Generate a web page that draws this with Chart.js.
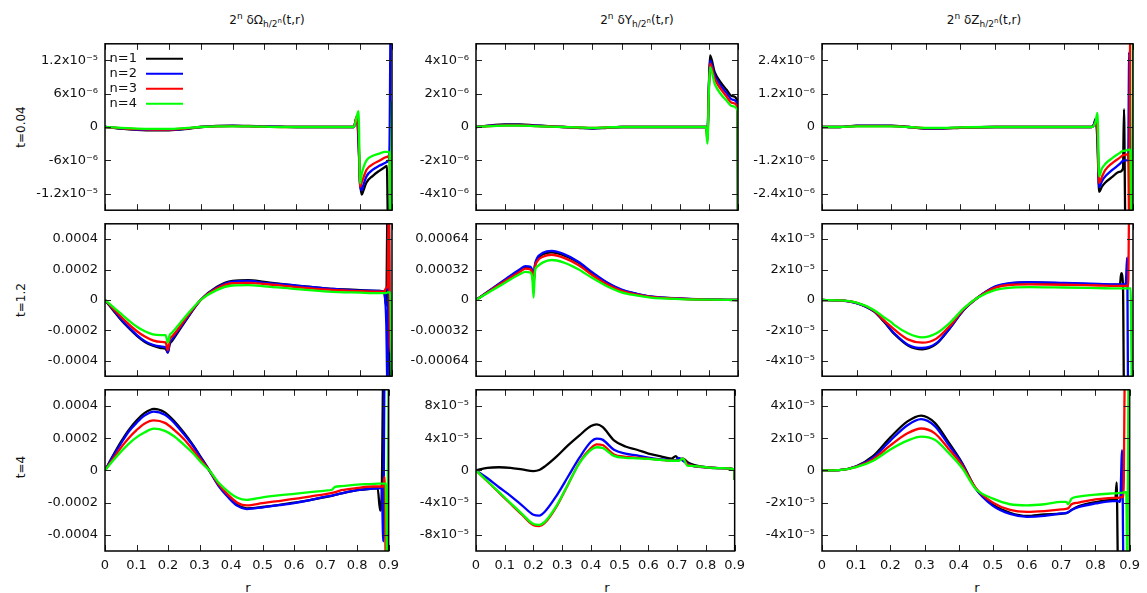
<!DOCTYPE html>
<html>
<head>
<meta charset="utf-8">
<script src="https://cdn.jsdelivr.net/npm/chart.js@4.4.1/dist/chart.umd.min.js"></script>
<style>
  body { margin: 0; background: #fff; width: 1147px; height: 593px; overflow: hidden; position: relative;
         font-family: "DejaVu Sans", sans-serif; color: #111; }
  .panel { position: absolute; }
  .title { position: absolute; top: 13px; font-size: 12px; line-height: 14px; white-space: nowrap; transform: translateX(-50%); }
  .title sup, .title sub { font-size: 9px; line-height: 0; }
  .title sub sup { font-size: 7px; vertical-align: 4px; }
  .rowlab { position: absolute; width: 80px; text-align: center; font-size: 12px; line-height: 14px; transform: rotate(-90deg); }
  .xlab { position: absolute; top: 581px; font-size: 13px; line-height: 14px; color: #111; transform: translateX(-50%); }
</style>
</head>
<body>
<div class="title" style="left:267px">2<sup>n</sup> δΩ<sub>h/2<sup>n</sup></sub>(t,r)</div>
<div class="title" style="left:637px">2<sup>n</sup> δY<sub>h/2<sup>n</sup></sub>(t,r)</div>
<div class="title" style="left:984px">2<sup>n</sup> δZ<sub>h/2<sup>n</sup></sub>(t,r)</div>
<div class="rowlab" style="left:-19px; top:120px">t=0.04</div>
<div class="rowlab" style="left:-19px; top:293px">t=1.2</div>
<div class="rowlab" style="left:-19px; top:460px">t=4</div>
<div class="xlab" style="left:248px">r</div>
<div class="xlab" style="left:607px">r</div>
<div class="xlab" style="left:977px">r</div>
<script>
// shared axis stuff
const rTicks = [0, 0.1, 0.2, 0.3, 0.4, 0.5, 0.6, 0.7, 0.8, 0.9];
const rTickLabels = ['0', '0.1', '0.2', '0.3', '0.4', '0.5', '0.6', '0.7', '0.8', '0.9'];
const seriesNames = ['n=1', 'n=2', 'n=3', 'n=4'];
const seriesColours = ['#000000', '#0000ff', '#ff0000', '#00ff00'];

// t=0.04, Omega (units 1e-6)
const omegaT004_r  = [0, 0.05, 0.1, 0.15, 0.2, 0.25, 0.3, 0.35, 0.4, 0.45, 0.5, 0.55, 0.6, 0.7, 0.78, 0.79, 0.795, 0.8, 0.805, 0.81, 0.82, 0.84, 0.86, 0.878, 0.884, 0.888, 0.892, 0.896, 0.9];
const omegaT004_n1 = [0, -0.3, -0.5, -0.6, -0.6, -0.4, 0, 0.2, 0.25, 0.2, 0.1, 0.05, 0, 0, 0, 1.8, -3, -10, -12.2, -11.5, -10, -8.8, -7.9, -7.2, -7, -20, -20, -20, -20];
const omegaT004_n2 = [0, -0.25, -0.45, -0.5, -0.5, -0.35, 0, 0.15, 0.2, 0.15, 0.1, 0.05, 0, 0, 0, 1.8, -2, -10.5, -11.4, -10.5, -8.9, -7.7, -7.0, -6.5, -6.3, -6.2, -4, 20, 20];
const omegaT004_n3 = [0, -0.2, -0.4, -0.45, -0.45, -0.3, 0, 0.1, 0.15, 0.1, 0.05, 0, 0, 0, 0, 2.0, -1, -10.8, -10.0, -9.2, -7.7, -6.7, -6.1, -5.5, -5.4, -5.3, -5.2, -20, -20];
const omegaT004_n4 = [0, -0.15, -0.3, -0.35, -0.35, -0.2, 0, 0.1, 0.1, 0.1, 0.05, 0, 0, 0, 0, 2.0, 2.85, -10.2, -8.5, -7.4, -6.0, -5.2, -4.8, -4.5, -4.5, -4.5, -4.5, -20, 4.7];
const omegaT004_ticks = [-12, -6, 0, 6, 12];
const omegaT004_labels = ['-1.2x10⁻⁵', '-6x10⁻⁶', '0', '6x10⁻⁶', '1.2x10⁻⁵'];

// t=0.04, Y (units 1e-6)
const yT004_r  = [0, 0.05, 0.1, 0.15, 0.2, 0.25, 0.3, 0.35, 0.4, 0.45, 0.5, 0.6, 0.7, 0.78, 0.79, 0.795, 0.8, 0.804, 0.82, 0.84, 0.86, 0.88, 0.899, 0.9];
const yT004_n1 = [0, 0.1, 0.15, 0.15, 0.1, 0.05, 0, -0.05, -0.1, -0.05, 0, 0, 0, 0, 0, -0.3, 2.5, 4.3, 3.3, 2.7, 2.25, 1.85, 1.5, -6];
const yT004_n2 = [0, 0.08, 0.12, 0.12, 0.08, 0.04, 0, -0.04, -0.08, -0.04, 0, 0, 0, 0, 0, -0.5, 2.4, 4.0, 3.1, 2.5, 2.05, 1.65, 1.33, -6];
const yT004_n3 = [0, 0.06, 0.1, 0.1, 0.06, 0.03, 0, -0.03, -0.06, -0.03, 0, 0, 0, 0, 0, -0.8, 2.3, 3.8, 2.9, 2.3, 1.85, 1.45, 1.17, -6];
const yT004_n4 = [0, 0.05, 0.08, 0.08, 0.05, 0.02, 0, -0.02, -0.05, -0.02, 0, 0, 0, 0, 0, -1.0, 2.2, 3.6, 2.6, 2.0, 1.6, 1.25, 0.95, -6];
const yT004_ticks = [-4, -2, 0, 2, 4];
const yT004_labels = ['-4x10⁻⁶', '-2x10⁻⁶', '0', '2x10⁻⁶', '4x10⁻⁶'];

// t=0.04, Z (units 1e-6)
const zT004_r  = [0, 0.05, 0.1, 0.15, 0.2, 0.25, 0.3, 0.35, 0.4, 0.5, 0.6, 0.7, 0.78, 0.787, 0.792, 0.797, 0.802, 0.81, 0.82, 0.84, 0.86, 0.871, 0.874, 0.878, 0.882, 0.886, 0.889, 0.892, 0.896, 0.9];
const zT004_n1 = [0, 0, 0.05, 0.05, 0.05, 0, -0.06, -0.06, -0.03, 0, 0, 0, 0, 0.1, 0.3, -0.5, -2.34, -2.15, -2.0, -1.8, -1.62, -1.5, 0.64, -3.5, -3.5, -3.5, -3.5, -3.5, -3.5, -3.5];
const zT004_n2 = [0, 0, 0.04, 0.04, 0.04, 0, -0.05, -0.05, -0.02, 0, 0, 0, 0, 0.1, 0.25, -0.3, -2.17, -1.95, -1.78, -1.55, -1.35, -1.22, -1.21, -1.2, -1.2, -1.2, 2.7, -3.5, -3.5, -3.5];
const zT004_n3 = [0, 0, 0.03, 0.03, 0.03, 0, -0.04, -0.04, -0.02, 0, 0, 0, 0, 0.05, 0.2, -0.2, -2.02, -1.8, -1.55, -1.3, -1.12, -1.02, -1.01, -1.0, -0.99, -0.98, -3.5, 3.5, 3.5, 3.5];
const zT004_n4 = [0, 0, 0.02, 0.02, 0.02, 0, -0.03, -0.03, -0.01, 0, 0, 0, 0, 0.05, 0.2, 0.51, -1.78, -1.5, -1.33, -1.12, -0.95, -0.86, -0.86, -0.85, -0.84, -0.83, -0.82, -0.82, -3.5, 3.5];
const zT004_ticks = [-2.4, -1.2, 0, 1.2, 2.4];
const zT004_labels = ['-2.4x10⁻⁶', '-1.2x10⁻⁶', '0', '1.2x10⁻⁶', '2.4x10⁻⁶'];

// t=1.2, Omega (units 1e-4)
const omegaT12_r  = [0, 0.025, 0.05, 0.075, 0.1, 0.125, 0.15, 0.175, 0.19, 0.197, 0.203, 0.21, 0.25, 0.3, 0.35, 0.4, 0.45, 0.5, 0.6, 0.7, 0.8, 0.86, 0.875, 0.882, 0.886, 0.89, 0.894, 0.9];
const omegaT12_n1 = [0, -0.65, -1.3, -1.85, -2.35, -2.75, -3.0, -3.15, -3.2, -3.45, -2.9, -2.7, -1.45, 0, 0.85, 1.25, 1.3, 1.18, 0.95, 0.75, 0.65, 0.6, 0.55, -0.4, 6, 6, -6, -6];
const omegaT12_n2 = [0, -0.6, -1.25, -1.8, -2.3, -2.7, -2.95, -3.05, -3.1, -3.45, -2.8, -2.6, -1.4, 0, 0.8, 1.2, 1.25, 1.12, 0.95, 0.75, 0.62, 0.6, 0.5, -1.5, -6, 6, 6, 6];
const omegaT12_n3 = [0, -0.55, -1.1, -1.6, -2.05, -2.4, -2.65, -2.75, -2.78, -3.3, -2.55, -2.4, -1.3, 0, 0.75, 1.1, 1.12, 1.05, 0.85, 0.68, 0.58, 0.55, 0.55, 0.8, 0.9, 6, -3.4, -3.4];
const omegaT12_n4 = [0, -0.45, -0.9, -1.35, -1.75, -2.05, -2.25, -2.3, -2.3, -2.8, -2.3, -2.15, -1.15, 0, 0.65, 0.95, 0.97, 0.9, 0.72, 0.55, 0.48, 0.45, 0.45, 0.45, 0.5, 0.5, 0.5, -6];
const omegaT12_ticks = [-4, -2, 0, 2, 4];
const omegaT12_labels = ['-0.0004', '-0.0002', '0', '0.0002', '0.0004'];

// t=1.2, Y (units 1e-4)
const yT12_r  = [0, 0.05, 0.1, 0.15, 0.17, 0.185, 0.193, 0.198, 0.202, 0.21, 0.23, 0.26, 0.3, 0.35, 0.4, 0.45, 0.5, 0.55, 0.6, 0.7, 0.8, 0.9];
const yT12_n1 = [0, 1.05, 2.1, 3.1, 3.42, 3.35, 2.9, 1.8, 3.45, 4.25, 4.8, 5.0, 4.7, 3.95, 2.8, 1.8, 1.05, 0.65, 0.36, 0.15, 0.05, 0];
const yT12_n2 = [0, 1.08, 2.15, 3.2, 3.55, 3.5, 3.1, 2.1, 3.6, 4.4, 4.95, 5.15, 4.85, 4.05, 2.9, 1.85, 1.1, 0.68, 0.38, 0.16, 0.06, 0];
const yT12_n3 = [0, 1.0, 2.0, 2.95, 3.3, 3.25, 2.8, 1.6, 3.3, 4.05, 4.55, 4.75, 4.45, 3.7, 2.6, 1.65, 0.95, 0.58, 0.33, 0.13, 0.04, 0];
const yT12_n4 = [0, 0.92, 1.82, 2.7, 2.95, 2.9, 2.4, 0.26, 2.9, 3.5, 3.95, 4.2, 3.95, 3.25, 2.3, 1.45, 0.8, 0.48, 0.26, 0.1, 0.03, 0];
const yT12_ticks = [-6.4, -3.2, 0, 3.2, 6.4];
const yT12_labels = ['-0.00064', '-0.00032', '0', '0.00032', '0.00064'];

// t=1.2, Z (units 1e-5)
const zT12_r  = [0, 0.05, 0.1, 0.15, 0.18, 0.2, 0.21, 0.25, 0.29, 0.33, 0.37, 0.41, 0.45, 0.5, 0.55, 0.6, 0.7, 0.8, 0.85, 0.862, 0.866, 0.871, 0.874, 0.879, 0.883, 0.886, 0.889, 0.893, 0.897, 0.9];
const zT12_n1 = [0, -0.02, -0.2, -0.75, -1.45, -2.0, -2.25, -3.0, -3.24, -2.9, -1.85, -0.65, 0.15, 0.85, 1.1, 1.15, 1.1, 1.02, 1.0, 1.0, 1.76, 1.0, -6, -6, -6, -6, -6, -6, -6, -6];
const zT12_n2 = [0, -0.02, -0.2, -0.72, -1.4, -1.95, -2.2, -2.95, -3.15, -2.85, -1.85, -0.65, 0.15, 0.88, 1.12, 1.17, 1.12, 1.05, 1.02, 1.02, 1.02, 1.02, 1.02, 1.1, 2.8, -6, -6, -6, -6, -6];
const zT12_n3 = [0, -0.02, -0.18, -0.7, -1.35, -1.75, -1.95, -2.6, -2.8, -2.55, -1.7, -0.6, 0.15, 0.8, 1.0, 1.02, 1.0, 0.95, 0.93, 0.93, 0.93, 0.93, 0.93, 0.93, 0.93, 0.9, 6, 6, 6, 6];
const zT12_n4 = [0, -0.02, -0.17, -0.65, -1.15, -1.45, -1.65, -2.2, -2.45, -2.2, -1.5, -0.55, 0.15, 0.65, 0.82, 0.85, 0.82, 0.78, 0.76, 0.76, 0.76, 0.76, 0.76, 0.76, 0.76, 0.76, 0.76, 0.76, -6, -6];
const zT12_ticks = [-4, -2, 0, 2, 4];
const zT12_labels = ['-4x10⁻⁵', '-2x10⁻⁵', '0', '2x10⁻⁵', '4x10⁻⁵'];

// t=4, Omega (units 1e-4)
const omegaT4_r  = [0, 0.025, 0.05, 0.075, 0.1, 0.125, 0.155, 0.19, 0.22, 0.25, 0.28, 0.31, 0.33, 0.36, 0.39, 0.42, 0.45, 0.5, 0.55, 0.6, 0.65, 0.7, 0.72, 0.73, 0.75, 0.8, 0.85, 0.865, 0.873, 0.878, 0.883, 0.887, 0.891, 0.895, 0.9];
const omegaT4_n1 = [0, 0.9, 1.75, 2.5, 3.1, 3.55, 3.82, 3.6, 3.05, 2.35, 1.55, 0.65, 0.05, -0.9, -1.6, -2.15, -2.35, -2.27, -2.15, -2.0, -1.85, -1.65, -1.58, -1.52, -1.43, -1.23, -1.12, -1.1, -2.5, -1.4, 6, 6, 6, 6, 6];
const omegaT4_n2 = [0, 0.85, 1.65, 2.4, 2.95, 3.4, 3.65, 3.45, 2.95, 2.25, 1.5, 0.6, 0, -0.95, -1.65, -2.2, -2.4, -2.29, -2.16, -2.03, -1.85, -1.63, -1.56, -1.52, -1.43, -1.23, -1.13, -1.12, -1.1, -1.1, -4.4, 6, 6, 6, 6];
const omegaT4_n3 = [0, 0.7, 1.4, 2.0, 2.5, 2.9, 3.1, 2.95, 2.5, 1.95, 1.25, 0.5, 0.02, -0.85, -1.5, -2.0, -2.17, -2.03, -1.9, -1.77, -1.62, -1.47, -1.4, -1.35, -1.23, -1.09, -1.0, -1.0, -1.0, -1.0, -1.0, -0.4, -6, -6, -6];
const omegaT4_n4 = [0, 0.6, 1.15, 1.65, 2.05, 2.35, 2.59, 2.45, 2.1, 1.6, 1.05, 0.4, 0.02, -0.75, -1.3, -1.7, -1.83, -1.67, -1.55, -1.45, -1.35, -1.25, -1.2, -1.02, -0.98, -0.88, -0.84, -0.82, -0.82, -0.82, -0.82, -0.82, -0.82, -6, 6];
const omegaT4_ticks = [-4, -2, 0, 2, 4];
const omegaT4_labels = ['-0.0004', '-0.0002', '0', '0.0002', '0.0004'];

// t=4, Y (units 1e-5)
const yT4_r  = [0, 0.04, 0.08, 0.12, 0.16, 0.2, 0.22, 0.24, 0.28, 0.32, 0.36, 0.4, 0.42, 0.44, 0.48, 0.52, 0.56, 0.6, 0.64, 0.68, 0.695, 0.705, 0.72, 0.735, 0.75, 0.8, 0.85, 0.899, 0.9];
const yT4_n1 = [0, 0.32, 0.39, 0.32, 0.12, -0.08, 0.05, 0.5, 1.7, 3.1, 4.35, 5.5, 5.71, 5.4, 3.74, 2.96, 2.56, 2.09, 1.77, 1.46, 1.77, 1.38, 1.46, 1.06, 0.79, 0.39, 0.28, 0.12, -1.2];
const yT4_n2 = [0, -0.98, -2.09, -3.15, -4.33, -5.5, -5.6, -5.1, -3.15, -0.79, 1.58, 3.55, 3.94, 3.82, 2.56, 2.09, 1.85, 1.58, 1.38, 1.26, 1.26, 1.54, 1.2, 0.87, 0.59, 0.39, 0.28, 0.12, -1.2];
const yT4_n3 = [0, -1.38, -2.76, -4.14, -5.5, -6.8, -6.9, -6.5, -4.5, -1.77, 0.98, 2.76, 3.23, 3.15, 1.97, 1.69, 1.58, 1.46, 1.3, 1.22, 1.22, 1.22, 1.46, 0.79, 0.59, 0.39, 0.28, 0.12, -1.2];
const yT4_n4 = [0, -1.35, -2.7, -4.05, -5.4, -6.65, -6.75, -6.35, -4.4, -1.75, 0.9, 2.55, 2.87, 2.8, 1.8, 1.55, 1.5, 1.42, 1.3, 1.2, 1.2, 1.2, 1.45, 0.6, 0.55, 0.39, 0.28, 0.12, -1.2];
const yT4_ticks = [-8, -4, 0, 4, 8];
const yT4_labels = ['-8x10⁻⁵', '-4x10⁻⁵', '0', '4x10⁻⁵', '8x10⁻⁵'];

// t=4, Z (units 1e-5)
const zT4_r  = [0, 0.05, 0.1, 0.15, 0.2, 0.25, 0.29, 0.33, 0.37, 0.41, 0.45, 0.5, 0.55, 0.6, 0.65, 0.7, 0.715, 0.72, 0.73, 0.75, 0.8, 0.85, 0.858, 0.862, 0.866, 0.872, 0.878, 0.882, 0.886, 0.89, 0.893, 0.897, 0.9];
const zT4_n1 = [0, 0.02, 0.26, 0.9, 2.05, 3.04, 3.4, 2.95, 1.75, 0.46, -1.13, -2.13, -2.63, -2.83, -2.73, -2.69, -2.65, -2.6, -2.45, -2.23, -1.97, -1.83, -1.8, -0.74, -6, -6, -6, -6, -6, -6, -6, -6, -6];
const zT4_n2 = [0, 0.02, 0.24, 0.8, 1.85, 2.8, 3.18, 2.75, 1.6, 0.4, -1.15, -2.2, -2.7, -2.88, -2.82, -2.67, -2.64, -2.6, -2.45, -2.28, -2.05, -1.9, -1.9, -1.9, -1.9, -1.95, 1.25, -6, -6, -6, -6, -6, -6];
const zT4_n3 = [0, 0.02, 0.22, 0.7, 1.55, 2.3, 2.6, 2.3, 1.35, 0.3, -1.1, -2.0, -2.45, -2.57, -2.52, -2.42, -2.38, -2.35, -2.1, -2.0, -1.8, -1.7, -1.7, -1.7, -1.7, -1.68, -1.65, -1.65, 6, 6, 6, 6, 6];
const zT4_n4 = [0, 0.02, 0.2, 0.6, 1.3, 1.85, 2.1, 1.9, 1.1, 0.15, -1.15, -1.75, -2.1, -2.17, -2.1, -1.95, -1.95, -2.1, -1.75, -1.63, -1.5, -1.43, -1.42, -1.42, -1.41, -1.4, -1.38, -1.37, -1.36, -1.35, -6, 6, 6];
const zT4_ticks = [-4, -2, 0, 2, 4];
const zT4_labels = ['-4x10⁻⁵', '-2x10⁻⁵', '0', '2x10⁻⁵', '4x10⁻⁵'];

// plot boxes of the 3x3 grid (px)
const cols = [{ l: 105, r: 392 }, { l: 476, r: 738 }, { l: 822, r: 1133 }];
const rows = [{ t: 37, b: 217 }, { t: 217, b: 383 }, { t: 383, b: 551 }];

const panels = [
  { col: 0, row: 0, r: omegaT004_r, n: [omegaT004_n1, omegaT004_n2, omegaT004_n3, omegaT004_n4], yMax: 15, ticks: omegaT004_ticks, labels: omegaT004_labels, legend: true },
  { col: 1, row: 0, r: yT004_r, n: [yT004_n1, yT004_n2, yT004_n3, yT004_n4], yMax: 5, ticks: yT004_ticks, labels: yT004_labels },
  { col: 2, row: 0, r: zT004_r, n: [zT004_n1, zT004_n2, zT004_n3, zT004_n4], yMax: 3, ticks: zT004_ticks, labels: zT004_labels },
  { col: 0, row: 1, r: omegaT12_r, n: [omegaT12_n1, omegaT12_n2, omegaT12_n3, omegaT12_n4], yMax: 5, ticks: omegaT12_ticks, labels: omegaT12_labels },
  { col: 1, row: 1, r: yT12_r, n: [yT12_n1, yT12_n2, yT12_n3, yT12_n4], yMax: 8, ticks: yT12_ticks, labels: yT12_labels },
  { col: 2, row: 1, r: zT12_r, n: [zT12_n1, zT12_n2, zT12_n3, zT12_n4], yMax: 5, ticks: zT12_ticks, labels: zT12_labels },
  { col: 0, row: 2, r: omegaT4_r, n: [omegaT4_n1, omegaT4_n2, omegaT4_n3, omegaT4_n4], yMax: 5, ticks: omegaT4_ticks, labels: omegaT4_labels },
  { col: 1, row: 2, r: yT4_r, n: [yT4_n1, yT4_n2, yT4_n3, yT4_n4], yMax: 10, ticks: yT4_ticks, labels: yT4_labels },
  { col: 2, row: 2, r: zT4_r, n: [zT4_n1, zT4_n2, zT4_n3, zT4_n4], yMax: 5, ticks: zT4_ticks, labels: zT4_labels }
];

Chart.defaults.font.family = '"DejaVu Sans", sans-serif';
Chart.defaults.font.size = 13;
Chart.defaults.color = '#111';

// gnuplot style frame: border + inward ticks on all four sides
const framePlugin = {
  id: 'frame',
  afterDraw(chart) {
    const { ctx, chartArea: a, scales } = chart;
    ctx.save();
    ctx.strokeStyle = '#222';
    ctx.lineWidth = 1;
    ctx.beginPath();
    scales.x.ticks.forEach(t => {
      const x = Math.round(scales.x.getPixelForValue(t.value)) + 0.5;
      ctx.moveTo(x, a.bottom); ctx.lineTo(x, a.bottom - 6);
      ctx.moveTo(x, a.top); ctx.lineTo(x, a.top + 6);
    });
    scales.y.ticks.forEach(t => {
      const y = Math.round(scales.y.getPixelForValue(t.value)) + 0.5;
      ctx.moveTo(a.left, y); ctx.lineTo(a.left + 6, y);
      ctx.moveTo(a.right, y); ctx.lineTo(a.right - 6, y);
    });
    ctx.stroke();
    ctx.strokeStyle = '#000';
    ctx.lineWidth = 1.5;
    ctx.strokeRect(a.left, a.top, a.right - a.left, a.bottom - a.top);
    ctx.restore();
  }
};

// key drawn inside the top-left panel
const keyPlugin = {
  id: 'insideKey',
  afterDatasetsDraw(chart) {
    const { ctx, chartArea: a } = chart;
    ctx.save();
    ctx.font = '13px "DejaVu Sans", sans-serif';
    ctx.textAlign = 'right';
    ctx.textBaseline = 'middle';
    ctx.fillStyle = '#111';
    chart.data.datasets.forEach((ds, i) => {
      const y = a.top + 15 + i * 15;
      ctx.fillText(ds.label, a.left + 32, y);
      ctx.strokeStyle = ds.borderColor;
      ctx.lineWidth = 2;
      ctx.beginPath();
      ctx.moveTo(a.left + 41, y);
      ctx.lineTo(a.left + 78, y);
      ctx.stroke();
    });
    ctx.restore();
  }
};

panels.forEach(p => {
  const c = cols[p.col], rw = rows[p.row];
  const bottomRow = p.row === 2;
  const padL = 100, padT = 8, padR = 14, padB = bottomRow ? 32 : 8;

  const box = document.createElement('div');
  box.className = 'panel';
  box.style.left = (c.l - padL) + 'px';
  box.style.top = (rw.t - padT) + 'px';
  box.style.width = (c.r - c.l + padL + padR) + 'px';
  box.style.height = (rw.b - rw.t + padT + padB) + 'px';
  const canvas = document.createElement('canvas');
  box.appendChild(canvas);
  document.body.appendChild(box);

  new Chart(canvas, {
    type: 'line',
    data: {
      datasets: p.n.map((ys, i) => ({
        label: seriesNames[i],
        data: ys.map((y, k) => ({ x: p.r[k], y: y })),
        borderColor: seriesColours[i],
        backgroundColor: seriesColours[i],
        borderWidth: 2.3,
        pointRadius: 0,
        fill: false,
        order: 4 - i,
        cubicInterpolationMode: 'monotone'
      }))
    },
    options: {
      responsive: true,
      maintainAspectRatio: false,
      animation: false,
      events: [],
      layout: { autoPadding: false, padding: { left: 0, top: padT, right: padR, bottom: bottomRow ? 0 : padB } },
      plugins: { legend: { display: false }, tooltip: { enabled: false } },
      scales: {
        x: {
          type: 'linear', min: 0, max: 0.9,
          grid: { display: false, drawTicks: false },
          border: { display: false },
          ticks: {
            display: bottomRow, padding: 7, autoSkip: false, maxRotation: 0,
            callback: v => { const i = rTicks.indexOf(v); return i < 0 ? '' : rTickLabels[i]; }
          },
          afterBuildTicks: s => { s.ticks = rTicks.map(v => ({ value: v })); },
          afterFit: s => { s.height = bottomRow ? padB : 0; }
        },
        y: {
          type: 'linear', min: -p.yMax, max: p.yMax,
          grid: { display: false, drawTicks: false },
          border: { display: false },
          ticks: {
            padding: 7, autoSkip: false,
            callback: v => { const i = p.ticks.indexOf(v); return i < 0 ? '' : p.labels[i]; }
          },
          afterBuildTicks: s => { s.ticks = p.ticks.map(v => ({ value: v })); },
          afterFit: s => { s.width = padL; }
        }
      }
    },
    plugins: p.legend ? [framePlugin, keyPlugin] : [framePlugin]
  });
});
</script>
</body>
</html>
